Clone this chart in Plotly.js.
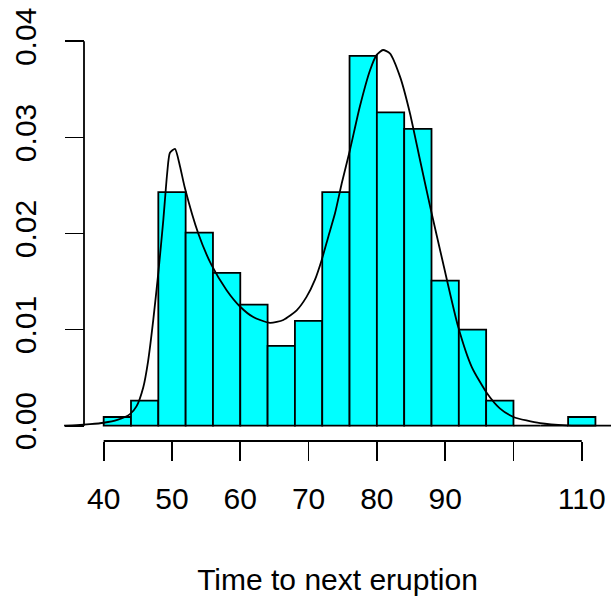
<!DOCTYPE html>
<html>
<head>
<meta charset="utf-8">
<script src="https://cdn.plot.ly/plotly-3.0.1.min.js"></script>
<style>html,body{margin:0;padding:0;background:#fff;}#chart{width:611px;height:597px;}</style>
</head>
<body>
<div id="chart"></div>
<script>
// Histogram bins (left edges, width 4) and densities
var binStarts = [40, 44, 48, 52, 56, 60, 64, 68, 72, 76, 80, 84, 88, 92, 96, 100, 104, 108];
var binWidth = 4;
var densities = [0.0009, 0.0026, 0.0243, 0.0201, 0.0159, 0.0126, 0.0083, 0.0109, 0.0243,
                 0.0385, 0.0326, 0.0309, 0.0151, 0.0100, 0.0026, 0, 0, 0.0009];

// Fitted density curve
var curveX = [34.2, 36, 38, 40, 42, 43.85, 44.8, 45.8, 46.5, 47.26, 48.0, 48.73, 49.3, 49.7, 50.44,
              51.17, 51.9, 53.85, 55.8, 58.0, 59.96, 61.9, 64.35, 66.3, 68.26, 69.7, 70.94, 71.9,
              72.9, 73.87, 74.85, 76.06, 77.5, 79.0, 79.97, 80.9, 81.9, 83.4, 84.85, 86.3, 87.8,
              89.7, 91.9, 93.9, 96.1, 98.0, 100, 103.9, 107.8, 114.3];
var curveY = [0.0, 0.00005, 0.00015, 0.0003, 0.0006, 0.0012, 0.0020, 0.0040, 0.0067, 0.0110, 0.0159,
              0.0214, 0.0263, 0.0284, 0.0288, 0.0270, 0.0247, 0.0200, 0.0167, 0.0141, 0.0124, 0.0113,
              0.0107, 0.0110, 0.0120, 0.0134, 0.0152, 0.0172, 0.0197, 0.0221, 0.0252, 0.0287, 0.0332,
              0.0370, 0.0386, 0.0391, 0.03875, 0.0363, 0.0325, 0.0277, 0.0228, 0.0169, 0.0103, 0.0061,
              0.0034, 0.0018, 0.0009, 0.00025, 0.00003, 0.0];

var xTicks = [40, 50, 60, 70, 80, 90, 100, 110];
var xTickText = ['40', '50', '60', '70', '80', '90', '', '110'];
var yTicks = [0, 0.01, 0.02, 0.03, 0.04];
var yTickText = ['0.00', '0.01', '0.02', '0.03', '0.04'];
var xLabel = 'Time to next eruption';

var centers = binStarts.map(function (b) { return b + binWidth / 2; });

var FONT = '"Liberation Sans", Arial, Helvetica, sans-serif';
var L = 64, R = 611, yAxisPx = 84;

var traces = [
  {
    type: 'bar', x: centers, y: densities, width: binWidth,
    marker: { color: '#00FFFF', line: { color: '#000000', width: 1.8 } },
    hoverinfo: 'skip', showlegend: false
  },
  {
    type: 'scatter', mode: 'lines', x: curveX, y: curveY,
    line: { color: '#000000', width: 1.8, shape: 'spline', smoothing: 0.6 },
    hoverinfo: 'skip', showlegend: false
  }
];

var layout = {
  width: 611, height: 597,
  margin: { l: L, r: 0, t: 26, b: 156, pad: 0 },
  paper_bgcolor: '#ffffff', plot_bgcolor: '#ffffff',
  font: { family: FONT, size: 30, color: '#000000' },
  bargap: 0,
  showlegend: false,
  xaxis: {
    range: [34.19, 114.28], fixedrange: true,
    tickmode: 'array', tickvals: xTicks, ticktext: xTickText,
    ticks: 'outside', ticklen: 19, tickwidth: 1.8, tickcolor: '#000000',
    showgrid: false, zeroline: false, showline: false,
    tickfont: { family: FONT, size: 30, color: '#000000' },
    ticklabelstandoff: 12,
    title: { text: xLabel, font: { family: FONT, size: 30, color: '#000000' }, standoff: 54 }
  },
  yaxis: {
    range: [-0.0016, 0.0416], fixedrange: true,
    anchor: 'free', position: (yAxisPx - L) / (R - L),
    tickmode: 'array', tickvals: yTicks, ticktext: yTickText, tickangle: -90,
    ticks: 'outside', ticklen: 19, tickwidth: 1.8, tickcolor: '#000000',
    showgrid: false, zeroline: false, showline: false,
    tickfont: { family: FONT, size: 30, color: '#000000' },
    ticklabelstandoff: 17
  },
  shapes: [
    { type: 'line', xref: 'x', yref: 'paper', x0: 40, x1: 110, y0: 0, y1: 0,
      line: { color: '#000000', width: 1.8 } },
    { type: 'line', xref: 'paper', yref: 'y', x0: (yAxisPx - L) / (R - L), x1: (yAxisPx - L) / (R - L),
      y0: 0, y1: 0.04, line: { color: '#000000', width: 1.8 } }
  ]
};

Plotly.newPlot('chart', traces, layout, { staticPlot: true, displayModeBar: false });
</script>
</body>
</html>
